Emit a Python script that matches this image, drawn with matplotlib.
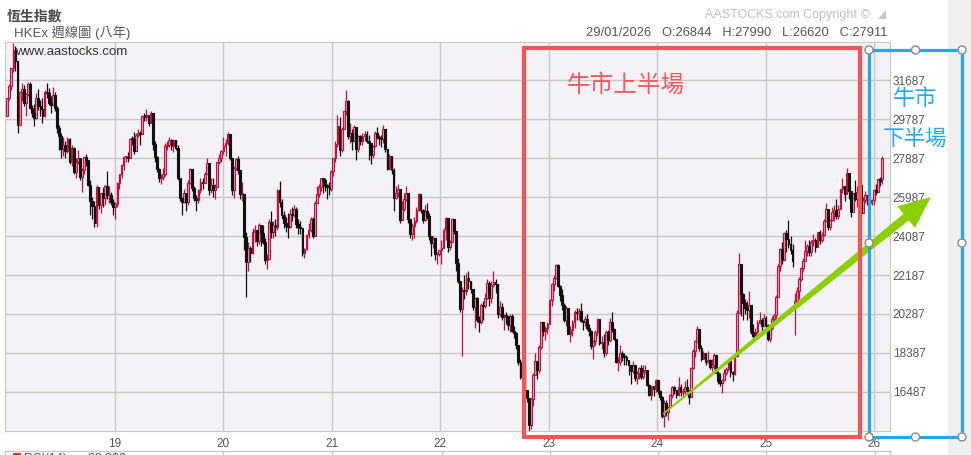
import matplotlib
matplotlib.use("Agg")
import matplotlib.pyplot as plt
from matplotlib.patches import Rectangle, Polygon, Circle
import numpy as np
import pandas as pd

plt.rcParams['font.family'] = ['Liberation Sans', 'Noto Sans CJK TC', 'DejaVu Sans']

### Data: HSI weekly candles, week ending Fridays
first_week = '2018-01-05'
first_open = 29919

close_2018 = [30815, 31413, 32255, 33154, 32602, 29507, 31115, 31267, 30583, 30996, 31502, 30309, 30093, 29844, 30809, 30418, 30281, 29927, 31122, 31047, 30588, 30492, 30958, 30309, 29338, 28955, 28316, 28525, 28224, 28804, 27676, 28367, 27213, 27672, 27889, 26973, 27286, 27954, 27789, 26573, 25801, 25561, 24717, 26486, 25601, 26183, 25928, 26507, 26063, 26094, 25753, 25504]
high_2018 = [30830, 31470, 32280, 33484, 33355, 32320, 31130, 31560, 31440, 31070, 31580, 31600, 30450, 30500, 31050, 31250, 30700, 30800, 31180, 31540, 31300, 30900, 31360, 31100, 30400, 29500, 29100, 28900, 28700, 28900, 28860, 28500, 28400, 27900, 28300, 27900, 27400, 27960, 28060, 27800, 26800, 26000, 25800, 26590, 26300, 26200, 26460, 26560, 27260, 26520, 26250, 25900]
low_2018 = [29920, 30690, 31190, 32090, 32120, 29129, 29600, 30650, 30430, 29920, 30900, 30260, 29900, 29460, 29800, 30210, 29950, 29600, 29900, 30800, 30450, 30100, 30490, 30200, 29100, 28270, 27900, 28000, 27900, 28150, 27600, 27500, 27100, 26900, 27600, 26800, 26220, 27100, 27500, 26500, 25090, 24900, 24540, 24540, 25400, 25200, 25500, 25600, 25900, 25700, 25600, 25100]

close_2019 = [25626, 26667, 27090, 27569, 27930, 27946, 27901, 28816, 28812, 28228, 29012, 29113, 29051, 29936, 29909, 29963, 29605, 30082, 28550, 27946, 27353, 26901, 26965, 27118, 28473, 28543, 28775, 28471, 28765, 28397, 26919, 25939, 25734, 26179, 25725, 26691, 27353, 26435, 25955, 25821, 26308, 26720, 26667, 27100, 27651, 26327, 26595, 26346, 26498, 27688, 27871, 28225]
high_2019 = [25750, 26700, 27100, 27600, 27990, 28000, 28200, 28850, 28950, 29170, 29100, 29300, 29200, 30000, 30080, 30280, 30000, 30200, 29600, 28700, 28000, 27400, 27100, 27400, 28600, 28700, 28900, 28800, 28800, 28700, 28500, 26900, 26000, 26400, 26100, 26800, 27400, 27200, 26500, 26100, 26400, 26900, 26900, 27200, 27900, 27500, 26900, 26900, 26600, 27700, 28100, 28300]
low_2019 = [24900, 25500, 26400, 26900, 27300, 27700, 27700, 27900, 28500, 28100, 28300, 28900, 28500, 29100, 29700, 29700, 29450, 29600, 28300, 27700, 27200, 26700, 26600, 26800, 27000, 28300, 28400, 28300, 28200, 28300, 26800, 25800, 25100, 25700, 25300, 25600, 26600, 26300, 25800, 25300, 25700, 26200, 26400, 26700, 27100, 26100, 26200, 26000, 25900, 26500, 27600, 27700]

close_2020 = [28452, 28638, 29056, 27909, 26313, 27404, 27816, 27309, 26130, 26146, 24033, 22805, 23484, 23236, 24300, 24380, 23831, 24643, 24230, 23797, 22930, 22961, 24770, 24301, 24644, 24549, 26339, 25727, 25089, 24705, 24595, 24531, 25183, 25113, 25422, 24695, 24503, 24455, 23235, 23459, 24119, 24386, 24918, 24107, 25712, 26157, 26452, 26894, 26836, 26506, 26498, 26387]
high_2020 = [28900, 28800, 29170, 29000, 27400, 27500, 27900, 28000, 27300, 26700, 26100, 24300, 23800, 23600, 24500, 24600, 24300, 24700, 24400, 24600, 24000, 23200, 24900, 25300, 24800, 24900, 26400, 26782, 25900, 25300, 25000, 25200, 25400, 25500, 25600, 25500, 24900, 24800, 24300, 23500, 24200, 24700, 25000, 25000, 25800, 26500, 26600, 26900, 26900, 26900, 26600, 26700]
low_2020 = [28100, 28000, 28500, 27800, 26100, 25950, 27300, 27100, 25900, 25800, 23400, 21139, 22400, 22800, 23200, 23800, 23600, 23700, 23600, 23700, 22700, 22500, 23000, 24000, 24000, 24100, 24400, 25500, 24900, 24500, 24300, 24000, 24500, 24800, 25000, 24500, 24200, 24200, 23100, 23000, 23400, 24000, 24300, 24000, 24100, 25700, 26000, 26300, 26200, 26300, 25900, 26100]

close_2021 = [27231, 27878, 28573, 29447, 28284, 29289, 30173, 30644, 28980, 29098, 28740, 29405, 28336, 28939, 28698, 28970, 29079, 28725, 28610, 28028, 28458, 29124, 28918, 28842, 28801, 29288, 28310, 27344, 28004, 27321, 25961, 26179, 26391, 24849, 25407, 25901, 26205, 24920, 24192, 24575, 24838, 25330, 26126, 25377, 24871, 25328, 25050, 24081, 23767, 23996, 23193, 23224, 23398]
high_2021 = [27300, 27900, 28700, 30000, 29900, 29400, 30200, 31183, 30700, 29600, 29300, 29500, 29200, 29000, 29000, 29100, 29200, 29200, 29000, 28600, 28500, 29200, 29400, 29000, 29000, 29500, 29300, 28300, 28100, 28000, 27400, 26500, 26600, 26200, 25800, 26200, 26500, 26000, 24900, 24700, 25000, 25500, 26200, 26100, 25400, 25600, 25700, 25200, 24000, 24100, 24000, 23300, 23400]
low_2021 = [26300, 27000, 27700, 28400, 28000, 28200, 29300, 30000, 28800, 28600, 28300, 28700, 27800, 28200, 28500, 28500, 28700, 28600, 27800, 27600, 27900, 28400, 28800, 28500, 28400, 28600, 28200, 27300, 27400, 27100, 25300, 25900, 26000, 24700, 24900, 25300, 25800, 24700, 24000, 23900, 24000, 24700, 25300, 25200, 24700, 24800, 24900, 23900, 23100, 23500, 22900, 22700, 23100]

close_2022 = [23493, 24383, 24965, 23550, 23802, 24906, 24328, 22767, 21905, 20553, 21412, 21404, 22039, 21872, 21518, 20638, 21089, 20001, 19898, 20717, 20697, 21082, 21806, 21075, 21719, 21860, 21725, 20297, 20609, 20156, 20202, 20175, 19773, 20170, 19452, 19362, 18762, 17933, 17223, 17740, 16588, 16211, 14863, 16161, 17326, 17993, 17573, 18675, 19900, 19450, 19593, 19781]
high_2022 = [23900, 24500, 25000, 24800, 23900, 24950, 24900, 24200, 23000, 21900, 21600, 22200, 22300, 22400, 21900, 21500, 21100, 21100, 20200, 20800, 20900, 21300, 22000, 21900, 21900, 22400, 22000, 21700, 20900, 20800, 20300, 20400, 20100, 20300, 20300, 19700, 19400, 18700, 18100, 17900, 17400, 16600, 16200, 16200, 17400, 18400, 17900, 18800, 19900, 19900, 19700, 19900]
low_2022 = [22700, 23500, 23900, 23300, 23400, 24000, 24200, 22400, 21800, 20400, 18235, 21000, 21200, 21500, 21300, 20500, 19600, 19900, 19400, 19800, 20000, 20600, 21000, 20700, 20800, 21600, 21300, 20100, 20200, 20000, 19500, 19800, 19500, 19400, 19400, 19100, 18600, 17800, 17100, 17100, 16400, 16000, 14597, 14700, 15800, 17500, 17100, 17400, 18600, 19200, 19000, 19300]

close_2023 = [20992, 21738, 22045, 22689, 21661, 21190, 20719, 20010, 20568, 19320, 19519, 19916, 20400, 20331, 20439, 19960, 19895, 20049, 19628, 19451, 18747, 18950, 19390, 20041, 18890, 18916, 18366, 19414, 18999, 19916, 19539, 19075, 17951, 17956, 18382, 18202, 18183, 18058, 17810, 17486, 17813, 17172, 17399, 17664, 17203, 17454, 17560, 16830, 16334, 16792, 16621, 17047]
high_2023 = [21000, 21800, 22200, 22700, 22700, 21700, 21500, 20800, 20700, 20600, 19700, 20000, 20500, 20600, 20600, 20800, 20000, 20200, 20300, 19800, 19500, 19000, 19500, 20100, 20000, 19200, 19300, 19500, 19500, 20100, 20400, 19600, 19000, 18200, 18800, 18500, 18400, 18300, 18000, 17700, 18000, 17800, 17500, 17700, 17800, 17800, 17800, 17500, 16900, 16800, 16800, 17100]
low_2023 = [19800, 20700, 21400, 22000, 21600, 20900, 20500, 19900, 19700, 19300, 18900, 19200, 19600, 20000, 20000, 19900, 19500, 19700, 19500, 19200, 18600, 18100, 18800, 19200, 18800, 18600, 18200, 18300, 18800, 18900, 19400, 19000, 17900, 17500, 17800, 18000, 17800, 17800, 17300, 16900, 17400, 17000, 16900, 17100, 17100, 17100, 17400, 16800, 16300, 16100, 16300, 16500]

close_2024 = [16535, 16244, 15308, 15952, 15533, 15747, 16339, 16726, 16589, 16353, 16721, 16499, 16541, 16724, 16600, 16224, 17651, 18476, 18964, 19553, 18609, 18079, 18367, 17942, 18028, 17719, 17800, 18293, 17417, 17021, 16945, 17090, 17430, 17612, 17989, 17444, 17369, 18258, 20355, 22737, 21252, 20804, 20590, 20506, 20728, 19426, 19230, 19424, 19866, 19971, 19721, 20090]
high_2024 = [17000, 16600, 16300, 16100, 16100, 15800, 16400, 16800, 16800, 16600, 17200, 16900, 16700, 17000, 17100, 16600, 17700, 18600, 19000, 19706, 19500, 18800, 18500, 18400, 18500, 18100, 18100, 18400, 18300, 17500, 17400, 17100, 17600, 17700, 18000, 17900, 17500, 18300, 20500, 23241, 22600, 21300, 21000, 20900, 21400, 20700, 19800, 19600, 20000, 20400, 20100, 20300]
low_2024 = [16400, 16100, 15200, 14794, 15300, 15100, 15700, 16200, 16400, 16200, 16300, 16300, 16300, 16400, 16500, 15900, 16400, 17600, 18200, 18900, 18500, 18000, 18200, 17800, 17900, 17600, 17500, 17600, 17400, 16900, 16800, 16441, 17000, 17300, 17500, 17200, 17000, 17300, 18200, 20400, 20200, 20000, 20300, 20000, 20100, 19300, 19000, 19000, 19300, 19800, 19300, 19700]

close_2025 = [19760, 19064, 19584, 20066, 20225, 21133, 22620, 23478, 22941, 24231, 23959, 23690, 23426, 22849, 20915, 21395, 21980, 22504, 22868, 23345, 23601, 23290, 23792, 23892, 23530, 24284, 23916, 24139, 24826, 25388, 24507, 24859, 25270, 25339, 25077, 25418, 26388, 26545, 26128, 27141, 26290, 25247, 26160, 25907, 26242, 26572, 25220, 25858, 26085, 25976, 25690, 25818]
high_2025 = [20200, 19800, 19600, 20200, 20300, 21200, 22700, 23500, 23800, 24300, 24370, 24874, 24100, 23700, 21300, 21600, 22100, 22600, 23000, 23900, 23700, 23900, 23900, 24200, 24000, 24300, 24400, 24300, 24900, 25700, 25400, 24900, 25500, 25600, 25900, 25600, 26400, 26900, 26500, 27381, 27100, 26200, 26200, 26800, 26500, 27000, 26600, 26000, 26300, 26100, 26000, 25900]
low_2025 = [19600, 18950, 18900, 19500, 19900, 19800, 21100, 22400, 22700, 22900, 23300, 23500, 23200, 22600, 19260, 20900, 21000, 21900, 22400, 22900, 23100, 23100, 23100, 23600, 23300, 23600, 23700, 23800, 24100, 25000, 24400, 24400, 24800, 24800, 24900, 24900, 25400, 26200, 25800, 26200, 25900, 25000, 25300, 25800, 25500, 26000, 25100, 25200, 25700, 25600, 25200, 25600]

close_2026 = [26338, 26231, 26845, 26749, 27911]
high_2026 = [26400, 26600, 26900, 26950, 27990]
low_2026 = [25600, 26100, 26300, 26500, 26620]

# weeks that opened on a gap (otherwise open = previous close)
gap_opens = [('2025-04-11', 20800), ('2026-01-30', 26844)]

ytick_vals = [16487, 18387, 20287, 22187, 24087, 25987, 27887, 29787, 31687]
year_ticks = [2019, 2020, 2021, 2022, 2023, 2024, 2025, 2026]
year_labels = ['19', '20', '21', '22', '23', '24', '25', '26']

### build series
closes = np.array(close_2018 + close_2019 + close_2020 + close_2021 + close_2022
                  + close_2023 + close_2024 + close_2025 + close_2026, dtype=float)
highs = np.array(high_2018 + high_2019 + high_2020 + high_2021 + high_2022
                 + high_2023 + high_2024 + high_2025 + high_2026, dtype=float)
lows = np.array(low_2018 + low_2019 + low_2020 + low_2021 + low_2022
                + low_2023 + low_2024 + low_2025 + low_2026, dtype=float)

dates = pd.date_range(first_week, periods=len(closes), freq='W-FRI')
opens = np.concatenate([[first_open], closes[:-1]])
for d, o in gap_opens:
    opens[dates.get_loc(pd.Timestamp(d))] = o
highs = np.maximum(highs, np.maximum(opens, closes))
lows = np.minimum(lows, np.minimum(opens, closes))
x = dates.year + (dates.dayofyear - 3) / 365.25

### figure
W, H = 971, 455
fig = plt.figure(figsize=(W / 100, H / 100), dpi=100)
fig.patch.set_facecolor('white')

ax = fig.add_axes([5 / W, 1 - 431 / H, 885 / W, 389 / H])
ax.set_facecolor('#f4f2f6')
ax.set_xlim(2017.9855, 2026.1476)
ax.set_ylim(14586, 33540)

up = closes >= opens
body_bot = np.minimum(opens, closes)
body_h = np.maximum(np.abs(closes - opens), 50)
ax.vlines(x[up], lows[up], highs[up], color='#c4103c', lw=0.9, zorder=3)
ax.vlines(x[~up], lows[~up], highs[~up], color='#111111', lw=0.9, zorder=3)
ax.bar(x[up], body_h[up], bottom=body_bot[up], width=0.016,
       facecolor='#e6a0b8', edgecolor='#c4103c', lw=0.8, zorder=4)
ax.bar(x[~up], body_h[~up], bottom=body_bot[~up], width=0.016,
       facecolor='#111111', edgecolor='#111111', lw=0.8, zorder=4)

ax.set_yticks(ytick_vals)
ax.set_yticklabels([str(v) for v in ytick_vals])
ax.set_xticks(year_ticks)
ax.set_xticklabels(year_labels)
ax.grid(True, color='#c8c8c8', lw=1)
ax.set_axisbelow(True)
ax.yaxis.tick_right()
ax.tick_params(axis='y', length=0, labelsize=8.5, labelcolor='#555555', pad=2)
ax.tick_params(axis='x', length=0, labelsize=8.5, labelcolor='#555555', pad=5)
for s in ax.spines.values():
    s.set_color('#c8c8c8')

### overlay in pixel coordinates
ov = fig.add_axes([0, 0, 1, 1], zorder=10)
ov.set_xlim(0, W)
ov.set_ylim(H, 0)
ov.axis('off')
ov.patch.set_alpha(0)

# grey strip at the right edge
ov.add_patch(Rectangle((948, 0), 23, H, facecolor='#f0f0f0', edgecolor='none'))

# texts
ov.text(7, 17, '恆生指數', fontsize=10, weight='bold', color='#4a4a4a', va='center')
ov.text(14, 33, 'HKEx 週線圖 (八年)', fontsize=9.5, color='#555555', va='center')
ov.text(15, 52, 'www.aastocks.com', fontsize=9.5, color='#333333', va='center')
ov.text(870, 15, 'AASTOCKS.com Copyright ©', fontsize=9, color='#c0c0c0',
        ha='right', va='center')
ov.add_patch(Polygon([(878, 19), (886, 10), (886, 19)], closed=True,
                     facecolor='#c8c8c8', edgecolor='none'))
ov.text(887, 33, '29/01/2026   O:26844   H:27990   L:26620   C:27911', fontsize=9.3,
        color='#555555', ha='right', va='center')

# bottom (RSI) panel edge, cut off by the picture edge as in the source
ov.plot([5, 890], [451, 451], color='#c8c8c8', lw=1)
for px in [5, 115, 223, 332, 442, 550, 658, 766, 875, 890]:
    ov.plot([px, px], [451, 456], color='#c8c8c8', lw=1)
ov.add_patch(Rectangle((13, 453), 8, 6, facecolor='#e03030', edgecolor='none'))
ov.text(24, 459, 'RSI(14)      38.382', fontsize=9, color='#555555', va='center')

# green tapered arrow
S = np.array([663.0, 414.0])
T = np.array([931.0, 197.0])
u = (T - S) / np.linalg.norm(T - S)
n = np.array([-u[1], u[0]])
B = T - 32 * u
arrow = [S + 0.8 * n, B + 4.2 * n, B + 14 * n, T, B - 14 * n, B - 4.2 * n, S - 0.8 * n]
ov.add_patch(Polygon(arrow, closed=True, facecolor='#8ccf00', edgecolor='none'))

# red and blue boxes
ov.add_patch(Rectangle((524, 48), 336, 389, fill=False, edgecolor='#f25555', lw=3))
ov.add_patch(Rectangle((869, 50), 93, 387, fill=False, edgecolor='#22a8f0', lw=2.3))
for px, py in [(869, 50), (915.5, 50), (962, 50), (869, 243), (962, 243),
               (869, 437), (915.5, 437), (962, 437)]:
    ov.add_patch(Circle((px, py), 4, facecolor='white', edgecolor='#8a8a8a', lw=1))

ov.text(567, 85, '牛市上半場', fontsize=17, color='#f05a5a', va='center')
ov.text(915, 99, '牛市', fontsize=16, color='#22aaee', ha='center', va='center')
ov.text(915, 139, '下半場', fontsize=15.5, color='#22aaee', ha='center', va='center')

fig.savefig('out.png', dpi=100)
